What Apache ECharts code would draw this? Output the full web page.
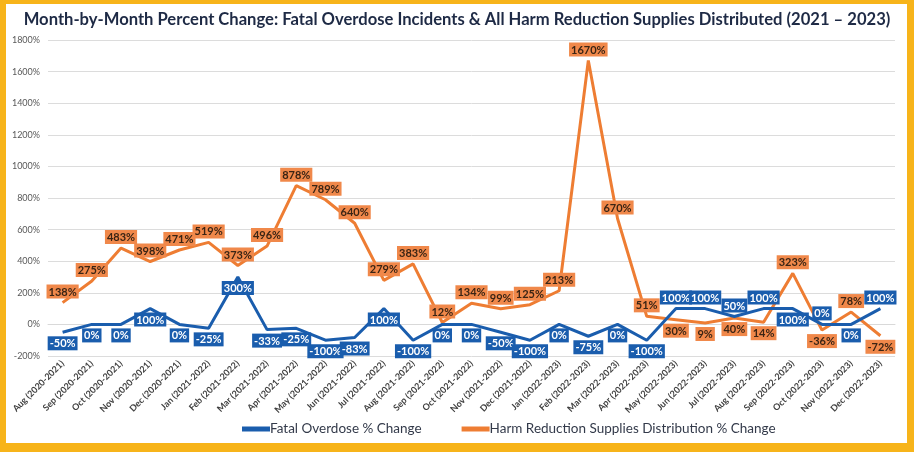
<!DOCTYPE html>
<html>
<head>
<meta charset="utf-8">
<script src="https://cdn.jsdelivr.net/npm/echarts@6/dist/echarts.min.js"></script>
<style>
  html, body { margin: 0; padding: 0; background: #ffffff; }
  #chart { position: absolute; left: 0; top: 0; width: 914px; height: 452px; }
  #frame { position: absolute; left: 0; top: 0; width: 914px; height: 452px; box-sizing: border-box;
           border-style: solid; border-color: #F7B41A; border-width: 4px 7px 9px 6px; pointer-events: none; }
</style>
</head>
<body>
<div id="chart"></div>
<div id="frame"></div>
<script>
const categories = [
  'Aug (2020-2021)', 'Sep (2020-2021)', 'Oct (2020-2021)', 'Nov (2020-2021)', 'Dec (2020-2021)',
  'Jan (2021-2022)', 'Feb (2021-2022)', 'Mar (2021-2022)', 'Apr (2021-2022)', 'May (2021-2022)', 'Jun (2021-2022)',
  'Jul (2021-2022)', 'Aug (2021-2022)', 'Sep (2021-2022)', 'Oct (2021-2022)', 'Nov (2021-2022)', 'Dec (2021-2022)',
  'Jan (2022-2023)', 'Feb (2022-2023)', 'Mar (2022-2023)', 'Apr (2022-2023)', 'May (2022-2023)', 'Jun (2022-2023)',
  'Jul (2022-2023)', 'Aug (2022-2023)', 'Sep (2022-2023)', 'Oct (2022-2023)', 'Nov (2022-2023)', 'Dec (2022-2023)'
];
const fatalOverdose = [-50, 0, 0, 100, 0, -25, 300, -33, -25, -100, -83, 100, -100, 0, 0, -50, -100, 0, -75, 0, -100, 100, 100, 50, 100, 100, 0, 0, 100];
const harmReduction = [138, 275, 483, 398, 471, 519, 373, 496, 878, 789, 640, 279, 383, 12, 134, 99, 125, 213, 1670, 670, 51, 30, 9, 40, 14, 323, -36, 78, -72];
const yTicks = { min: -200, max: 1800, step: 200 };
const seriesNames = ['Fatal Overdose % Change', 'Harm Reduction Supplies Distribution % Change'];
const titleText = 'Month-by-Month Percent Change: Fatal Overdose Incidents & All Harm Reduction Supplies Distributed (2021 \u2013 2023)';

// label placement overrides (indices where labels flip side)
const flipLabels = [21, 22, 23, 24, 26, 28];

const BLUE = '#1A5DAD';
const ORANGE = '#EE7D33';
const FONT = 'Lato, "Noto Sans", sans-serif';

function makeData(values, defaultPos, flipPos) {
  return values.map((v, i) => ({
    value: v,
    label: { position: flipLabels.includes(i) ? flipPos : defaultPos }
  }));
}

const chart = echarts.init(document.getElementById('chart'), null, { renderer: 'canvas' });
chart.setOption({
  animation: false,
  backgroundColor: '#ffffff',
  title: {
    text: titleText,
    left: 'center',
    top: 6,
    textStyle: { fontFamily: FONT, fontSize: 16.6, fontWeight: 'bold', color: '#1E2A45' }
  },
  legend: {
    bottom: 11,
    left: 237,
    itemWidth: 28,
    itemHeight: 5,
    itemGap: 40,
    icon: 'rect',
    textStyle: { fontFamily: FONT, fontSize: 13.5, color: '#333a4a', padding: [0, 0, 0, -5] },
    data: seriesNames
  },
  grid: { left: 48, right: 19, top: 40, bottom: 96, containLabel: false },
  xAxis: {
    type: 'category',
    data: categories,
    boundaryGap: true,
    axisLine: { show: true, lineStyle: { color: '#d9d9d9' } },
    axisTick: { show: false },
    axisLabel: {
      interval: 0, rotate: 45, fontFamily: FONT, fontSize: 9, fontWeight: 'bold', color: '#404040', margin: 6
    }
  },
  yAxis: {
    type: 'value',
    min: yTicks.min, max: yTicks.max, interval: yTicks.step,
    axisLine: { show: false },
    axisTick: { show: false },
    splitLine: { lineStyle: { color: '#dcdcdc', width: 1 } },
    axisLabel: { formatter: v => v + '%', fontFamily: FONT, fontSize: 9, color: '#595959', margin: 8 }
  },
  series: [
    {
      name: seriesNames[0],
      type: 'line',
      data: makeData(fatalOverdose, 'bottom', 'top'),
      symbol: 'circle',
      symbolSize: 0.01,
      showSymbol: true,
      lineStyle: { color: BLUE, width: 3 },
      itemStyle: { color: BLUE },
      z: 3,
      label: {
        show: true,
        formatter: p => p.value + '%',
        fontFamily: FONT, fontSize: 11, fontWeight: 'bold',
        color: '#ffffff', backgroundColor: BLUE,
        padding: [2, 2, 1, 2], distance: 4
      }
    },
    {
      name: seriesNames[1],
      type: 'line',
      data: makeData(harmReduction, 'top', 'bottom'),
      symbol: 'circle',
      symbolSize: 0.01,
      showSymbol: true,
      lineStyle: { color: ORANGE, width: 3 },
      itemStyle: { color: ORANGE },
      z: 2,
      label: {
        show: true,
        formatter: p => p.value + '%',
        fontFamily: FONT, fontSize: 11, fontWeight: 'bold',
        color: '#3a2414', backgroundColor: '#F0884A',
        padding: [2, 2, 1, 2], distance: 4
      }
    }
  ]
});
</script>
</body>
</html>
